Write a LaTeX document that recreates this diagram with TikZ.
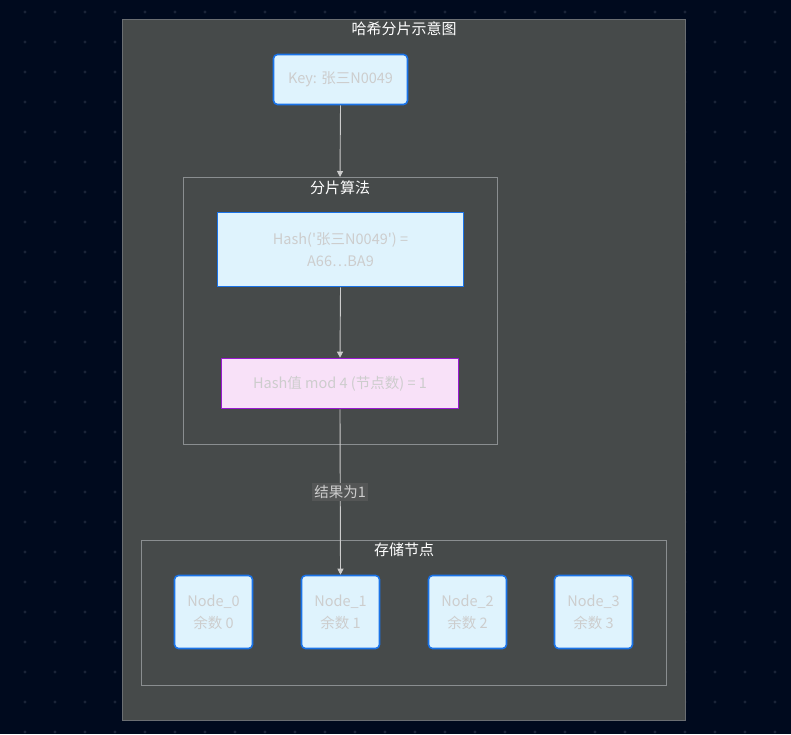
\documentclass[tikz,border=0pt]{standalone}
\usepackage{fontspec}
\setmainfont{Noto Sans CJK SC}
\newfontfamily\nf{Noto Sans CJK SC}
\usetikzlibrary{arrows.meta}
\definecolor{bgc}{HTML}{000A1E}
\definecolor{dotc}{HTML}{1A2438}
\definecolor{framefill}{HTML}{464A4A}
\definecolor{frameline}{HTML}{6A6E72}
\definecolor{clusterline}{HTML}{8A8E90}
\definecolor{bluefill}{HTML}{DFF3FD}
\definecolor{blueline}{HTML}{1A73E8}
\definecolor{pinkfill}{HTML}{F8E1F8}
\definecolor{purpleline}{HTML}{9A1AD0}
\definecolor{txtc}{HTML}{CDCDCD}
\definecolor{edgec}{HTML}{CCCCCC}
\definecolor{lblfill}{HTML}{545656}
\tikzset{
  box/.style={draw=blueline, line width=1.6pt, fill=bluefill, text=txtc, align=center, inner sep=0pt, font=\nf\fontsize{14.5}{22}\selectfont},
  rbox/.style={box, rounded corners=4pt},
  modbox/.style={box, draw=purpleline, fill=pinkfill},
  cluster/.style={draw=clusterline, line width=0.8pt},
  ctitle/.style={text=white, font=\nf\fontsize{15}{18}\selectfont, inner sep=1pt},
  edge/.style={draw=edgec, line width=0.9pt, -{Triangle[width=6pt,length=6pt]}},
}
\begin{document}
\begin{tikzpicture}[x=1pt,y=-1pt]
\useasboundingbox (0,0) rectangle (791,734);
\fill[bgc] (0,0) rectangle (791,734);
\foreach \i in {0,...,26}{
  \foreach \j in {0,...,24}{
    \fill[dotc] (25+30*\i,12+30*\j) circle (1.6);
  }
}
% outer frame
\draw[fill=framefill, draw=frameline, line width=1pt] (122,19) rectangle (685,720);
\node[ctitle] (title) at (404,29) {哈希分片示意图};
% key
\node[rbox, minimum width=134pt, minimum height=50pt] (key) at (340.5,79.5) {Key: 张三N0049};
% cluster 1
\draw[cluster] (183,177) rectangle (497,444);
\coordinate (c1top) at (340,177);
\node[ctitle] (c1title) at (340,188) {分片算法};
\node[box, minimum width=246pt, minimum height=74pt] (hash) at (340.5,249.5) {Hash('张三N0049') =\\A66…BA9};
\node[modbox, minimum width=237pt, minimum height=50pt] (mod) at (340,383.5) {Hash值 mod 4 (节点数) = 1};
% cluster 2
\draw[cluster] (141,540) rectangle (666,685);
\node[ctitle] (c2title) at (404,550) {存储节点};
\node[rbox, minimum width=78pt, minimum height=73pt] (n0) at (213.5,612) {Node\_0\\余数 0};
\node[rbox, minimum width=78pt, minimum height=73pt] (n1) at (340.5,612) {Node\_1\\余数 1};
\node[rbox, minimum width=78pt, minimum height=73pt] (n2) at (467.5,612) {Node\_2\\余数 2};
\node[rbox, minimum width=78pt, minimum height=73pt] (n3) at (593.5,612) {Node\_3\\余数 3};
% edges
\draw[edge] (key.south) -- (c1top);
\draw[edge] (hash.south) -- (mod.north);
\draw[edge] (mod.south) -- node[fill=lblfill, text=txtc, inner sep=2pt, font=\nf\fontsize{14.5}{18}\selectfont] (lbl) {结果为1} (n1.north);
\end{tikzpicture}
\end{document}
